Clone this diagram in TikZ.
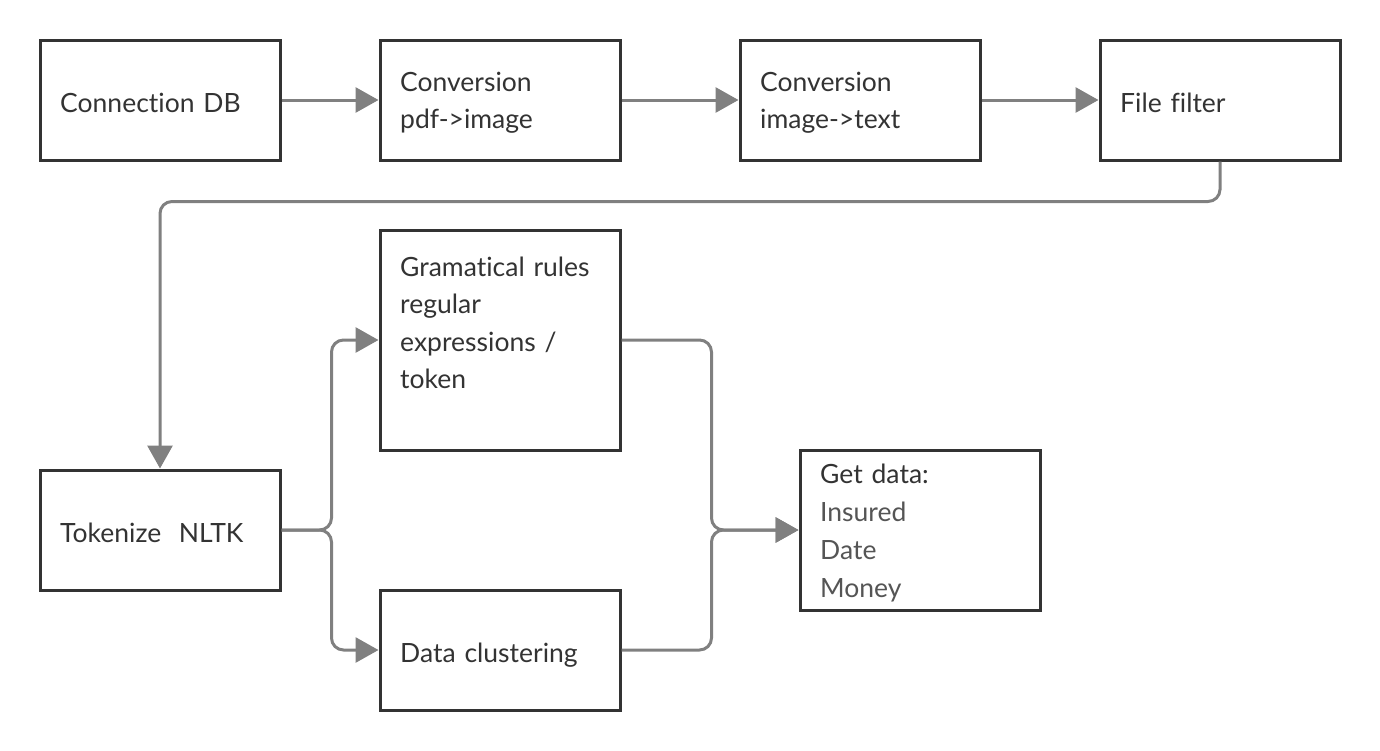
\documentclass[tikz,border=0pt]{standalone}
\usepackage{fontspec}
\setmainfont[Ligatures={NoCommon}]{Lato}
\usetikzlibrary{arrows.meta}
\definecolor{boxc}{HTML}{333333}
\definecolor{conc}{HTML}{808080}
\definecolor{lite}{HTML}{555555}
\tikzset{
  box/.style={draw=boxc, line width=3pt, fill=white, minimum width=240pt,
    minimum height=120pt, inner sep=0pt},
  txt/.style={text=boxc, text width=200pt, align=left, inner sep=0pt, anchor=base west,
    font=\fontsize{26.5}{37.5}\selectfont},
  conn/.style={draw=conc, line width=3pt, rounded corners=12pt,
    -{Triangle[length=23pt,width=25pt]}},
}
\begin{document}
\begin{tikzpicture}[x=1pt,y=-1pt]
\useasboundingbox (0,0) rectangle (1380,750);
\node[box] (db) at (160,100) {};
\node[box] (pdf) at (500,100) {};
\node[box] (img) at (860,100) {};
\node[box] (filt) at (1220,100) {};
\node[box, minimum height=220pt] (gram) at (500,340) {};
\node[box] (tok) at (160,530) {};
\node[box] (clust) at (500,650) {};
\node[box, minimum height=160pt] (get) at (920,530) {};
\node[txt] (dbt) at (60,112) {Connection DB};
\node[txt] (pdft) at (400,91) {Conversion\\pdf->image};
\node[txt] (imgt) at (760,91) {Conversion\\image->text};
\node[txt] (filtt) at (1120,112) {File filter};
\node[txt] (gramt) at (400,276) {Gramatical rules\\regular\\expressions /\\token};
\node[txt] (tokt) at (60,542) {Tokenize~~NLTK};
\node[txt] (clustt) at (400,662) {Data clustering};
\node[txt, font=\fontsize{26.5}{38}\selectfont] (gett) at (820,483) {Get data:\\\textcolor{lite}{Insured}\\\textcolor{lite}{Date}\\\textcolor{lite}{Money}};
\draw[conn] (db.east) -- (pdf.west);
\draw[conn] (pdf.east) -- (img.west);
\draw[conn] (img.east) -- (filt.west);
\draw[conn] (filt.south) -- ++(0,40) -| (tok.north);
\draw[conn] (tok.east) -- ++(50,0) |- (gram.west);
\draw[conn] (tok.east) -- ++(50,0) |- (clust.west);
\draw[conn] (gram.east) -- ++(90,0) |- (get.west);
\draw[conn] (clust.east) -- ++(90,0) |- (get.west);
\end{tikzpicture}
\end{document}
